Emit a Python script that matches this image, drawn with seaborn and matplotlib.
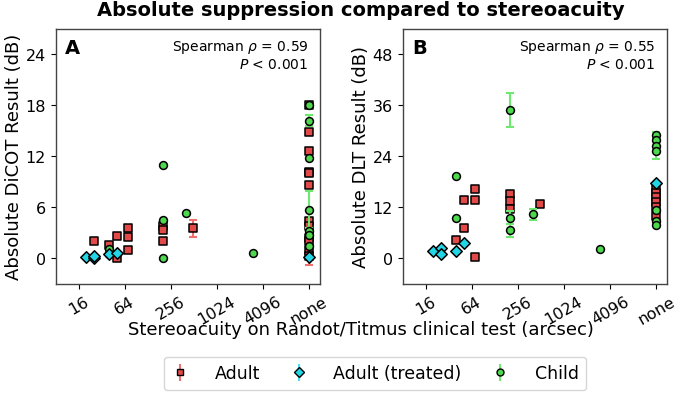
import numpy as np
import pandas as pd
import matplotlib
matplotlib.use("Agg")
import matplotlib.pyplot as plt
import seaborn as sns

# ---------------- data ----------------
NONE = 16384  # position used for "none"
tick_vals = [16, 64, 256, 1024, 4096, NONE]
tick_labels = ["16", "64", "256", "1024", "4096", "none"]

# Panel A (DiCOT)
a_adult_x = [25, 40, 50, 50, 70, 70, 70, 200, 200, 200, 500,
             NONE, NONE, NONE, NONE, NONE, NONE, NONE, NONE, NONE, NONE, NONE, NONE]
a_adult_y = [2.0, 1.5, 2.6, 0.0, 3.5, 2.5, 1.0, 3.85, 3.3, 2.0, 3.5,
             18.0, 14.9, 12.6, 10.2, 10.0, 8.6, 4.4, 3.8, 2.4, 2.0, 1.0, 0.3]
a_adult_e = [0, 0, 0, 0, 0, 0, 0, 0, 0, 0, 1.0,
             0, 0, 0, 0, 0, 0, 0, 0, 0, 0, 0, 1.1]
a_treat_x = [20, 25, 25, 40, 50, NONE]
a_treat_y = [0.1, 0.0, 0.3, 0.5, 0.6, 0.1]
a_treat_e = [0, 0, 0, 0, 0, 0]
a_child_x = [40, 40, 200, 200, 200, 400, 3000,
             NONE, NONE, NONE, NONE, NONE, NONE, NONE]
a_child_y = [1.1, 0.55, 11.0, 4.5, 0.0, 5.3, 0.6,
             18.0, 16.2, 11.8, 5.7, 3.2, 2.7, 1.4]
a_child_e = [0, 0, 0, 0, 0, 0, 0,
             0, 0.6, 0, 2.2, 0, 0, 0]

# Panel B (DLT)
b_adult_x = [40, 50, 50, 70, 70, 70, 200, 200, 200, 500,
             NONE, NONE, NONE, NONE, NONE, NONE]
b_adult_y = [4.2, 13.8, 7.2, 16.2, 13.6, 0.2, 15.2, 13.4, 11.6, 12.8,
             16.6, 15.4, 14.4, 13.2, 12.1, 9.9]
b_adult_e = [0] * 16
b_treat_x = [20, 25, 25, 40, 50, NONE]
b_treat_y = [1.8, 2.4, 1.0, 1.65, 3.6, 17.7]
b_treat_e = [0, 0, 0, 0, 0, 0]
b_child_x = [40, 40, 200, 200, 200, 400, 3000,
             NONE, NONE, NONE, NONE, NONE, NONE, NONE]
b_child_y = [19.3, 9.4, 35.0, 9.5, 6.6, 10.3, 2.2,
             28.9, 27.8, 26.5, 25.2, 11.3, 8.7, 7.9]
b_child_e = [0, 0, 4.0, 1.5, 1.5, 1.3, 0,
             0.7, 0, 3.2, 0, 0, 0, 0]

groups = ["Adult", "Adult (treated)", "Child"]
fill = {"Adult": "#e24a4a", "Adult (treated)": "#22d6e6", "Child": "#4ed84e"}
ecol = {"Adult": "#f07070", "Adult (treated)": "#40e4f2", "Child": "#6ee86e"}
mark = {"Adult": "s", "Adult (treated)": "D", "Child": "o"}

panels = [
    dict(letter="A", ylabel="Absolute DiCOT Result (dB)", ylim=(-3, 27),
         yticks=[0, 6, 12, 18, 24], rho="0.59",
         data={"Adult": (a_adult_x, a_adult_y, a_adult_e),
               "Adult (treated)": (a_treat_x, a_treat_y, a_treat_e),
               "Child": (a_child_x, a_child_y, a_child_e)}),
    dict(letter="B", ylabel="Absolute DLT Result (dB)", ylim=(-6, 54),
         yticks=[0, 12, 24, 36, 48], rho="0.55",
         data={"Adult": (b_adult_x, b_adult_y, b_adult_e),
               "Adult (treated)": (b_treat_x, b_treat_y, b_treat_e),
               "Child": (b_child_x, b_child_y, b_child_e)}),
]

sns.set_style("ticks")
plt.rcParams["font.family"] = ["DejaVu Sans"]
for key in ["text.color", "axes.labelcolor", "xtick.color", "ytick.color"]:
    plt.rcParams[key] = "black"

fig = plt.figure(figsize=(6.76, 4.02), dpi=100)
ax_pos = [[0.0824, 0.2918, 0.391, 0.634], [0.5957, 0.2918, 0.3914, 0.634]]

draw_order = ["Adult", "Child", "Adult (treated)"]
handles = {}
for p, pos in zip(panels, ax_pos):
    ax = fig.add_axes(pos)
    for k, g in enumerate(draw_order):
        x, y, e = p["data"][g]
        df = pd.DataFrame({"x": x, "y": y, "e": e})
        de = df[df["e"] > 0]
        if len(de):
            ax.errorbar(de["x"], de["y"], yerr=de["e"], fmt="none",
                        ecolor=ecol[g], elinewidth=1.5, capsize=3,
                        capthick=1.5, zorder=2 + k)
        sns.scatterplot(data=df, x="x", y="y", marker=mark[g], color=fill[g],
                        edgecolor="black", linewidth=1.1,
                        s=32 if g != "Adult (treated)" else 34,
                        ax=ax, zorder=3 + k, legend=False)
    ax.set_xscale("log", base=2)
    ax.set_xlim(2 ** 3, 2 ** 14.48)
    ax.set_xticks(tick_vals)
    ax.set_xticklabels(tick_labels, rotation=30, fontsize=11.5)
    ax.minorticks_off()
    ax.set_ylim(*p["ylim"])
    ax.set_yticks(p["yticks"])
    ax.tick_params(axis="y", labelsize=11.5)
    ax.set_xlabel("")
    ax.set_ylabel(p["ylabel"], fontsize=13, labelpad=2)
    for s in ax.spines.values():
        s.set_color("#444444")
        s.set_linewidth(1.0)
    ax.text(0.035, 0.965, p["letter"], transform=ax.transAxes,
            fontsize=14, fontweight="bold", ha="left", va="top")
    ax.text(0.955, 0.965, "Spearman $\\rho$ = " + p["rho"] + "\n$P$ < 0.001",
            transform=ax.transAxes, fontsize=10, ha="right", va="top",
            linespacing=1.25)

# legend proxies (errorbar style handles)
lax = fig.axes[0]
for g in groups:
    h = lax.errorbar([], [], yerr=[], fmt=mark[g], color=fill[g],
                     mec="black", mew=1.0, ms=5, ecolor=ecol[g],
                     elinewidth=1.5, capsize=3, capthick=1.5, label=g)
    handles[g] = h

fig.legend([handles[g] for g in groups], groups, loc="lower center",
           bbox_to_anchor=(0.555, 0.005), ncol=3, fontsize=12.5,
           frameon=True, handlelength=1.0, columnspacing=1.7,
           handletextpad=1.5, borderpad=0.45)

fig.text(0.534, 0.178, "Stereoacuity on Randot/Titmus clinical test (arcsec)",
         ha="center", va="center", fontsize=13)
fig.suptitle("Absolute suppression compared to stereoacuity",
             x=0.534, y=0.997, fontsize=14, fontweight="bold")

fig.savefig("out.png", dpi=100)
